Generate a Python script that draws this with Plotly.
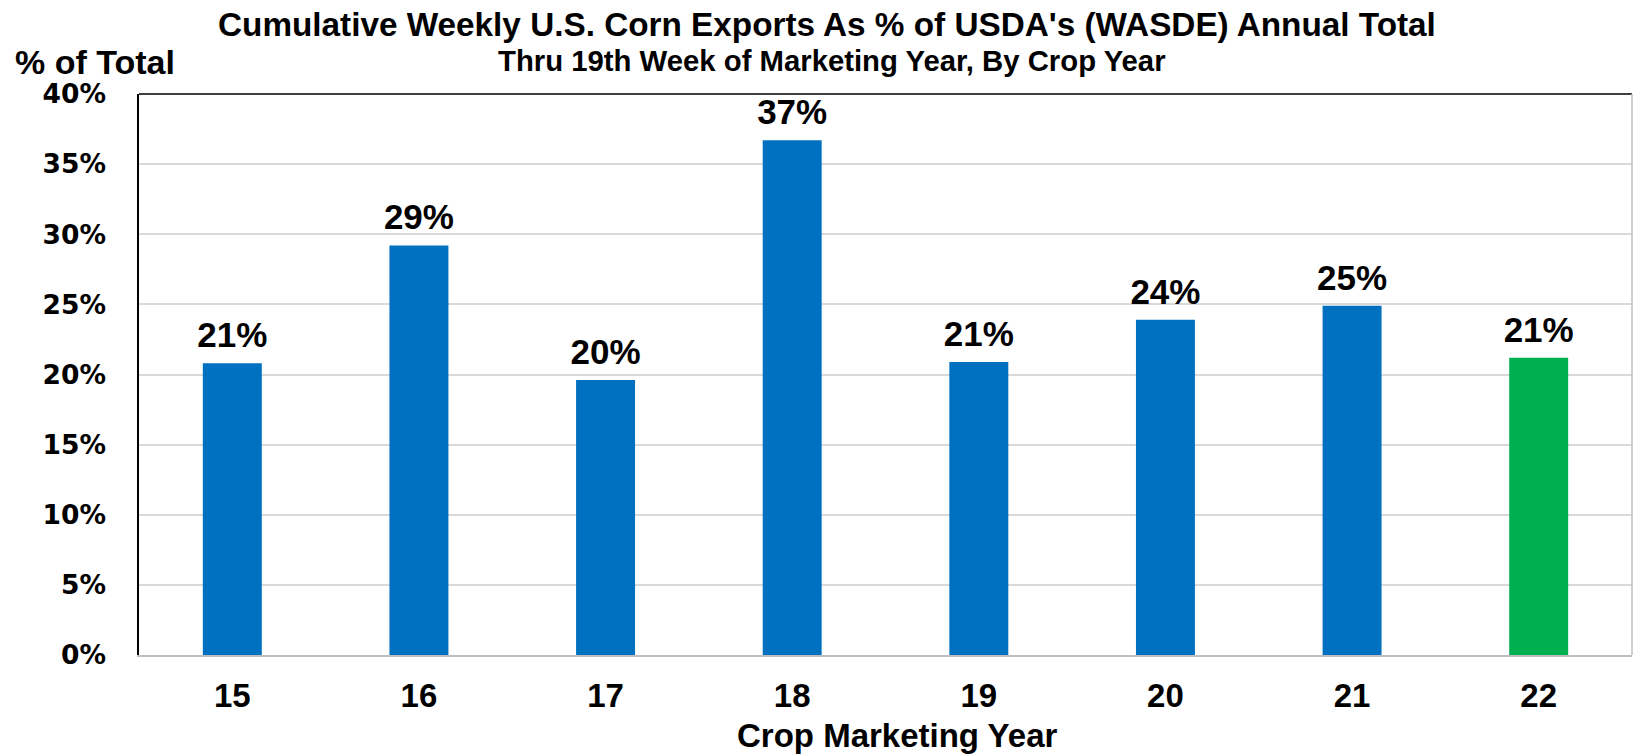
import plotly.graph_objects as go

# ---- data ----
crop_years = ["15", "16", "17", "18", "19", "20", "21", "22"]
pct_of_total = [20.8, 29.2, 19.6, 36.7, 20.9, 23.9, 24.9, 21.2]
bar_colors = ["#0070C0"] * 7 + ["#00B050"]
y_ticks = [0, 5, 10, 15, 20, 25, 30, 35, 40]

title_text = "Cumulative Weekly U.S. Corn Exports As % of USDA's (WASDE) Annual Total"
subtitle_text = "Thru 19th Week of Marketing Year, By Crop Year"
y_label = "% of Total"
x_label = "Crop Marketing Year"

ARIAL = "Liberation Sans, Arial, sans-serif"
TAHOMA = "DejaVu Sans, Verdana, sans-serif"

fig = go.Figure()
fig.add_trace(go.Bar(
    x=crop_years, y=pct_of_total,
    marker=dict(color=bar_colors, line=dict(width=0)),
    width=0.316,
    hoverinfo="x+y",
))

# data labels (text trace placed on the bar tops)
fig.add_trace(go.Scatter(
    x=crop_years, y=pct_of_total,
    mode="markers+text",
    marker=dict(size=10, color="rgba(0,0,0,0)"),
    text=[f"<b>{round(v):.0f}%</b>" for v in pct_of_total],
    textposition="top center",
    textfont=dict(family=ARIAL, size=35, color="black"),
    hoverinfo="skip",
    cliponaxis=False,
))

# titles
fig.add_annotation(x=0.461, y=1.124, xref="paper", yref="paper",
                   text=f"<b>{title_text}</b>", showarrow=False,
                   xanchor="center", yanchor="middle",
                   font=dict(family=ARIAL, size=33.3, color="black"))
fig.add_annotation(x=0.4644, y=1.060, xref="paper", yref="paper",
                   text=f"<b>{subtitle_text}</b>", showarrow=False,
                   xanchor="center", yanchor="middle",
                   font=dict(family=ARIAL, size=29.3, color="black"))
fig.add_annotation(x=-0.0847, y=1.057, xref="paper", yref="paper",
                   text=f"<b>{y_label}</b>", showarrow=False,
                   xanchor="left", yanchor="middle",
                   font=dict(family=ARIAL, size=34, color="black"))
fig.add_annotation(x=0.508, y=-0.143, xref="paper", yref="paper",
                   text=f"<b>{x_label}</b>", showarrow=False,
                   xanchor="center", yanchor="middle",
                   font=dict(family=ARIAL, size=33, color="black"))

# frame lines
fig.add_shape(type="line", xref="paper", yref="paper", x0=0, x1=1, y0=1, y1=1,
              line=dict(color="black", width=1.5))
fig.add_shape(type="line", xref="paper", yref="paper", x0=1, x1=1, y0=0, y1=1,
              line=dict(color="#bfbfbf", width=1.5))

fig.update_layout(
    width=1633, height=756,
    margin=dict(l=139, r=1, t=94, b=101, pad=0, autoexpand=False),
    paper_bgcolor="white", plot_bgcolor="white",
    showlegend=False,
    font=dict(family=ARIAL, color="black"),
)
fig.update_xaxes(
    type="category", range=[-0.5, 7.5],
    showline=True, linecolor="#bfbfbf", linewidth=2,
    showgrid=False, ticks="",
    tickfont=dict(family=ARIAL, size=33, color="black"),
    ticklabelstandoff=10,
    tickprefix="<b>", ticksuffix="</b>",
    automargin=False,
)
fig.update_yaxes(
    range=[0, 40], tickvals=y_ticks,
    ticktext=[f"<b>{t}%</b>" for t in y_ticks],
    showline=True, linecolor="black", linewidth=1.5,
    showgrid=True, gridcolor="#d9d9d9", gridwidth=1.5,
    zeroline=False, ticks="",
    tickfont=dict(family=TAHOMA, size=26.5, color="black"),
    ticklabelstandoff=26,
    automargin=False,
)

fig.write_html("out.html", config={"displayModeBar": False},
               post_script="document.body.style.margin='0';")
